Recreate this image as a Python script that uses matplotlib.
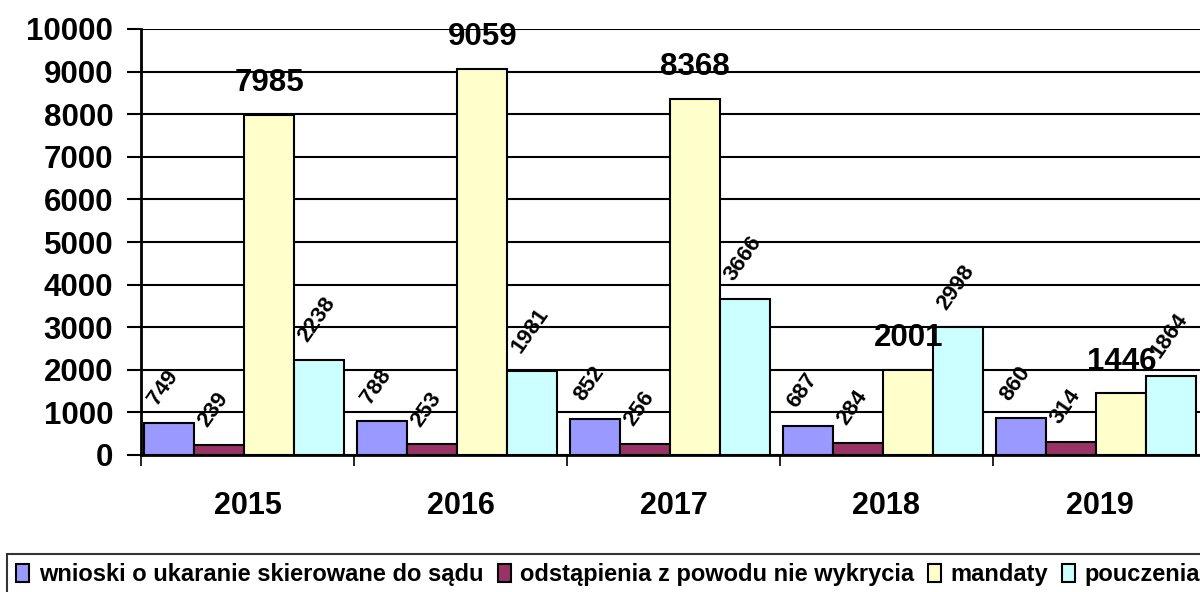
import numpy as np
import matplotlib.pyplot as plt

plt.rcParams['font.family'] = ['Liberation Sans', 'DejaVu Sans']
plt.rcParams['font.weight'] = 'bold'

lata = ['2015', '2016', '2017', '2018', '2019']
serie = ['wnioski o ukaranie skierowane do sądu', 'odstąpienia z powodu nie wykrycia',
         'mandaty', 'pouczenia']
wnioski = [749, 788, 852, 687, 860]
odstapienia = [239, 253, 256, 284, 314]
mandaty = [7985, 9059, 8368, 2001, 1446]
pouczenia = [2238, 1981, 3666, 2998, 1864]
kolory = ['#9999FF', '#993366', '#FFFFCC', '#CCFFFF']

fig = plt.figure(figsize=(12, 5.92), dpi=100)
ax = fig.add_axes([141 / 1200, 1 - 455 / 592, 1065 / 1200, 426 / 592])

x = np.arange(len(lata))
w = 0.235
dane = [wnioski, odstapienia, mandaty, pouczenia]
for i, (vals, kol, nazwa) in enumerate(zip(dane, kolory, serie)):
    pos = x + (i - 1.5) * w - 0.015
    bars = ax.bar(pos, vals, w, color=kol, edgecolor='black', linewidth=1.5,
                  label=nazwa, zorder=3)
    for b, v in zip(bars, vals):
        if i == 2:
            # mandaty - poziome, duze etykiety
            ax.annotate(str(v), (b.get_x() + w / 2, v), xytext=(0, 17),
                        textcoords='offset points', ha='center', va='baseline',
                        fontsize=22.5, fontweight='bold', zorder=5)
        else:
            ax.annotate(str(v), (b.get_x(), v), xytext=(9.5, 12),
                        textcoords='offset points', ha='left', va='baseline',
                        rotation=55, rotation_mode='anchor',
                        fontsize=16, fontweight='bold', zorder=5)

ax.set_xlim(-0.5, 4.5)
ax.set_ylim(0, 10000)
ax.set_yticks(np.arange(0, 10001, 1000))
ax.tick_params(axis='y', labelsize=22.5, length=10, width=1.5, direction='out', pad=10)
ax.set_xticks(x)
ax.set_xticklabels(lata, fontsize=22, fontweight='bold')
ax.tick_params(axis='x', length=0, pad=26)
ax.set_xticks(np.arange(-0.5, 5, 1), minor=True)
ax.tick_params(axis='x', which='minor', length=8, width=1.2)
ax.yaxis.grid(True, color='black', linewidth=1.5, zorder=0)
for s in ['top', 'right']:
    ax.spines[s].set_visible(False)
ax.spines['left'].set_linewidth(2)
ax.spines['bottom'].set_linewidth(2)

leg = fig.legend(loc='upper left', bbox_to_anchor=(7 / 1200, 1 - 554 / 592), ncol=4,
                 fontsize=17, frameon=True, fancybox=False, edgecolor='black',
                 handlelength=0.55, handleheight=0.8, handletextpad=0.4,
                 columnspacing=0.6, borderpad=0.4, borderaxespad=0)
leg.get_frame().set_linewidth(1.5)
for t in leg.get_texts():
    t.set_fontweight('bold')

fig.savefig('out.png', dpi=100)
